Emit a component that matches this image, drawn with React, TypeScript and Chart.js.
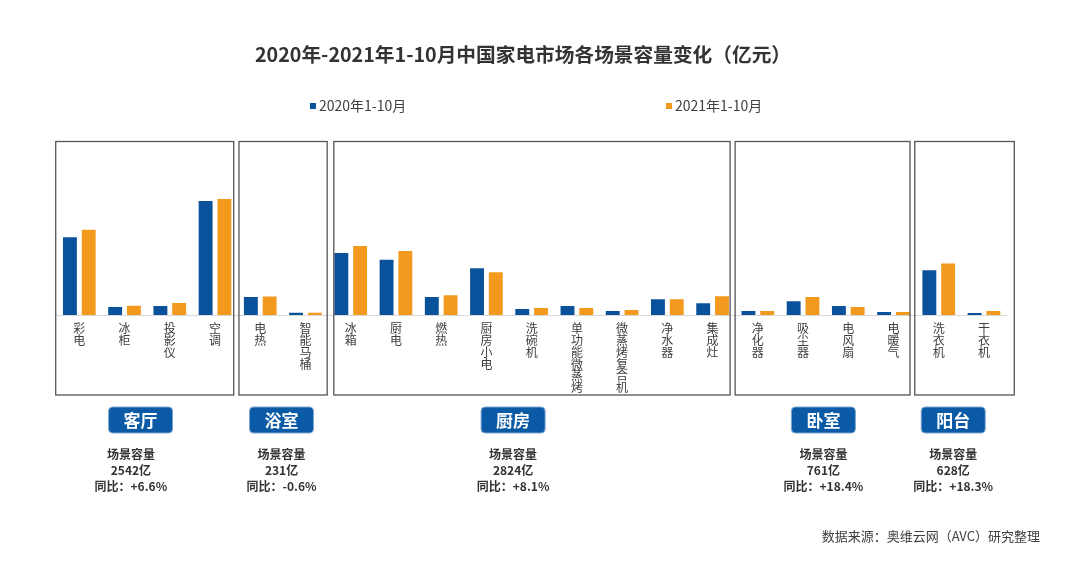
import React, { useEffect, useRef } from 'react';
import { Chart, registerables } from 'chart.js';

Chart.register(...registerables);

// ---------- data ----------
const categories = [
  '彩电', '冰柜', '投影仪', '空调',
  '电热', '智能马桶',
  '冰箱', '厨电', '燃热', '厨房小电', '洗碗机', '单功能微蒸烤', '微蒸烤复合机', '净水器', '集成灶',
  '净化器', '吸尘器', '电风扇', '电暖气',
  '洗衣机', '干衣机',
];
const series2020 = [
  888, 91, 103, 1303,
  206, 26,
  709, 632, 206, 534, 69, 103, 46, 179, 134,
  46, 157, 103, 34,
  511, 23,
];
const series2021 = [
  974, 106, 137, 1325,
  212, 26,
  788, 731, 225, 488, 80, 80, 57, 179, 214,
  46, 206, 91, 34,
  590, 46,
];
const seriesNames = ['2020年1-10月', '2021年1-10月'];
const sceneNames = ['客厅', '浴室', '厨房', '卧室', '阳台'];
const sceneFirst = [0, 4, 6, 15, 19];
const sceneLast = [3, 5, 14, 18, 20];
const sceneCapacity = ['2542亿', '231亿', '2824亿', '761亿', '628亿'];
const sceneYoY = ['+6.6%', '-0.6%', '+8.1%', '+18.4%', '+18.3%'];
const titleText = '2020年-2021年1-10月中国家电市场各场景容量变化（亿元）';
const sourceText = '数据来源：奥维云网（AVC）研究整理';

// ---------- style / layout ----------
const BLUE = '#0a519c';
const ORANGE = '#f39a1e';
const TEXT = '#333333';
const FONT = '"Noto Sans CJK SC", "Noto Sans", sans-serif';
const boxExtLeft = [23.6, 21.3, 16.9, 22.7, 24];
const boxExtRight = [18.7, 21.7, 17.5, 16.5, 30.3];
const badgeAt = [1.354, 4.47, 9.59, 16.45, 19.32];
const statsAt = [1.14, 4.47, 9.59, 16.45, 19.32];

const decor = {
  id: 'decor',
  afterDraw(chart: any) {
    const ctx = chart.ctx as CanvasRenderingContext2D;
    const xs = chart.scales.x;
    const p0 = xs.getPixelForValue(0);
    const slot = xs.getPixelForValue(1) - p0;
    const px = (v: number) => p0 + v * slot;
    ctx.save();

    // title
    ctx.fillStyle = TEXT;
    ctx.textAlign = 'center';
    ctx.textBaseline = 'middle';
    ctx.font = `bold 19.7px ${FONT}`;
    ctx.fillText(titleText, 523, 55);

    // legend
    ctx.font = `14px ${FONT}`;
    ctx.textAlign = 'left';
    const legendX = [310, 666];
    const legendColors = [BLUE, ORANGE];
    seriesNames.forEach((n, i) => {
      ctx.fillStyle = legendColors[i];
      ctx.fillRect(legendX[i], 103, 6, 6);
      ctx.fillStyle = '#404040';
      ctx.fillText(n, legendX[i] + 9, 106);
    });

    // scene boxes
    ctx.strokeStyle = '#555555';
    ctx.lineWidth = 1.3;
    const top = chart.chartArea.top + 1.5;
    sceneNames.forEach((_, i) => {
      const l = px(sceneFirst[i]) - boxExtLeft[i];
      const r = px(sceneLast[i]) + boxExtRight[i];
      ctx.strokeRect(l, top, r - l, 395 - top);
    });

    // badges
    sceneNames.forEach((n, i) => {
      const cx = px(badgeAt[i]);
      const w = 64, h = 26, y = 407;
      ctx.beginPath();
      (ctx as any).roundRect(cx - w / 2, y, w, h, 4);
      ctx.fillStyle = '#0b5aa6';
      ctx.fill();
      ctx.strokeStyle = '#7ea6cf';
      ctx.lineWidth = 1;
      ctx.stroke();
      ctx.fillStyle = '#ffffff';
      ctx.font = `bold 17px ${FONT}`;
      ctx.textAlign = 'center';
      ctx.fillText(n, cx, y + h / 2 + 0.5);
    });

    // stats
    ctx.fillStyle = TEXT;
    ctx.font = `bold 12px ${FONT}`;
    ctx.textAlign = 'center';
    sceneNames.forEach((_, i) => {
      const cx = px(statsAt[i]);
      ctx.fillText('场景容量', cx, 454);
      ctx.fillText(sceneCapacity[i], cx, 470.5);
      ctx.fillText('同比：' + sceneYoY[i], cx, 486);
    });

    // source
    ctx.font = `13px ${FONT}`;
    ctx.fillStyle = '#404040';
    ctx.textAlign = 'right';
    ctx.fillText(sourceText, 1040, 536);

    ctx.restore();
  },
};

export default function App() {
  const ref = useRef<HTMLCanvasElement | null>(null);

  useEffect(() => {
    if (!ref.current) return;
    const chart = new Chart(ref.current, {
      type: 'bar',
      data: {
        labels: categories.map((c) => c.split('')),
        datasets: [
          {
            label: seriesNames[0],
            data: series2020,
            backgroundColor: BLUE,
            categoryPercentage: 0.83,
            barPercentage: 0.74,
          },
          {
            label: seriesNames[1],
            data: series2021,
            backgroundColor: ORANGE,
            categoryPercentage: 0.83,
            barPercentage: 0.74,
          },
        ],
      },
      options: {
        responsive: false,
        animation: false,
        layout: { padding: { left: 56.7, right: 73.4, top: 140, bottom: 168 } },
        plugins: {
          legend: { display: false },
          title: { display: false },
          tooltip: { enabled: false },
        },
        scales: {
          x: {
            grid: { display: false, drawTicks: false },
            border: { display: true, color: '#d9d9d9', width: 1 },
            ticks: {
              autoSkip: false,
              maxRotation: 0,
              minRotation: 0,
              padding: 8,
              color: '#404040',
              font: { family: FONT, size: 12, lineHeight: 0.98 },
            },
            afterFit: (scale: any) => {
              scale.height = 80;
            },
          },
          y: {
            display: false,
            min: 0,
            max: 2000,
          },
        },
      },
      plugins: [decor],
    });
    return () => chart.destroy();
  }, []);

  return (
    <div style={{ position: 'fixed', left: 0, top: 0, width: 1080, height: 563, background: '#fff' }}>
      <canvas ref={ref} width={1080} height={563} style={{ display: 'block' }} />
    </div>
  );
}
